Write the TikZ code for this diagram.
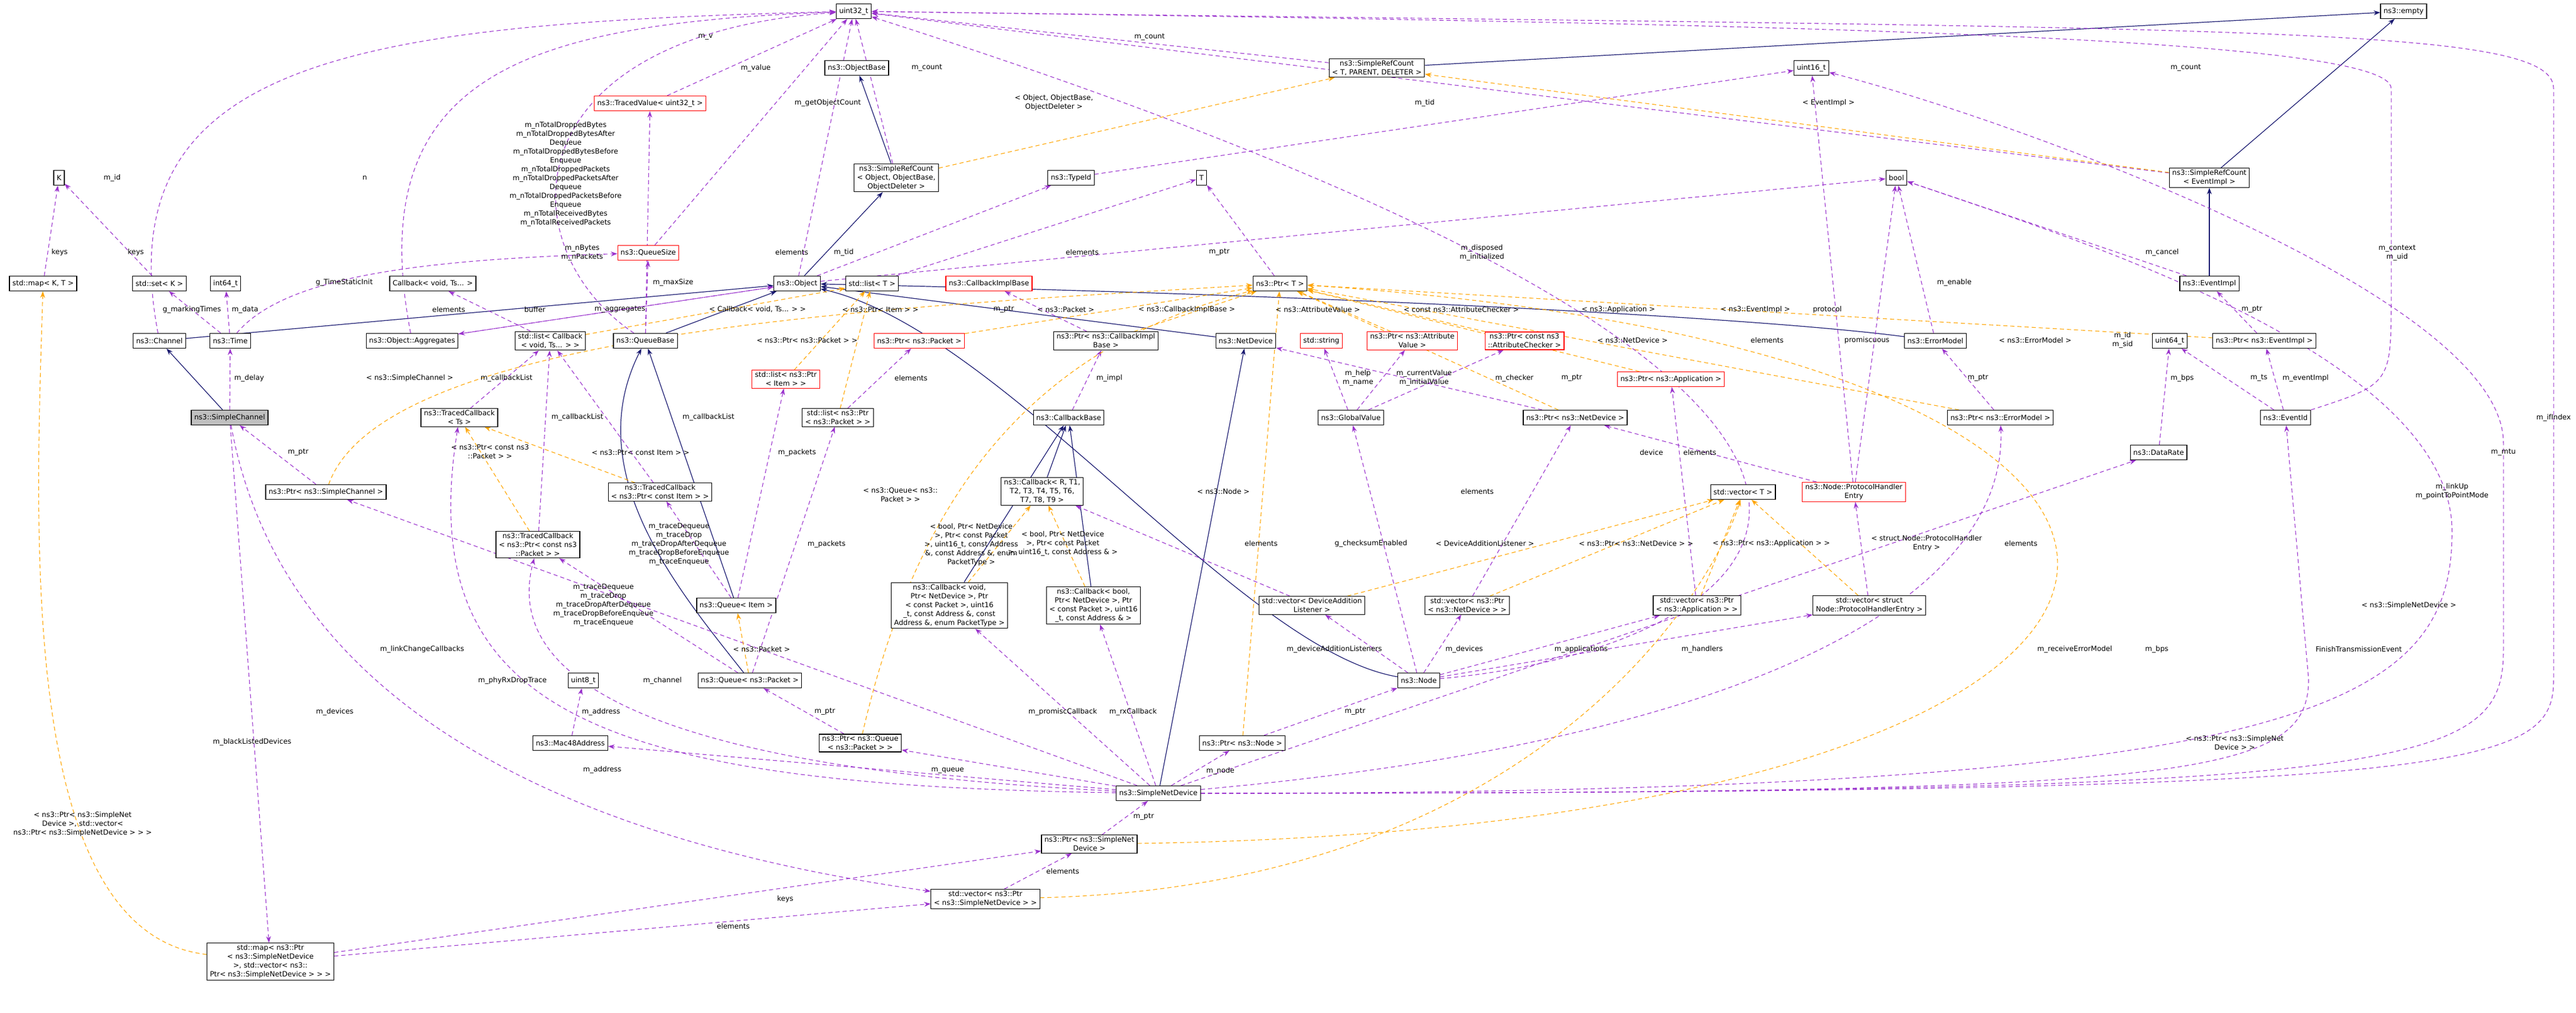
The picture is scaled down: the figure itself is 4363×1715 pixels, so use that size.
\documentclass[tikz,border=0pt]{standalone}
\usepackage{fontspec}
\setmainfont{DejaVu Sans}
\usetikzlibrary{arrows.meta}
\definecolor{pu}{HTML}{9A32CD}
\definecolor{og}{HTML}{FFA500}
\definecolor{nb}{HTML}{191970}
\pgfdeclarelayer{edges}
\pgfsetlayers{edges,main}
\begin{document}
\begin{tikzpicture}[x=1pt,y=-1pt,
  font=\fontsize{12}{15}\selectfont,
  bx/.style={draw=black,line width=1.2pt,fill=white,inner xsep=5pt,inner ysep=3pt,minimum height=25pt,align=center},
  rb/.style={bx,draw=red},
  gb/.style={bx,fill=black!25},
  lab/.style={inner sep=1pt,align=center},
  pe/.style={draw=pu,dash pattern=on 7pt off 5pt,line width=1.1pt,-{Stealth[length=11pt,width=8pt]}},
  oe/.style={draw=og,dash pattern=on 7pt off 5pt,line width=1.1pt,-{Stealth[length=11pt,width=8pt]}},
  ie/.style={draw=nb,line width=1.2pt,-{Stealth[length=11pt,width=8pt]}}]
\useasboundingbox (0,0) rectangle (4363,1715);
% nodes
\node[bx] (K) at (100,301) {K};
\node[bx] (u32) at (1446,19) {uint32\_t};
\node[bx] (ObjectBase) at (1451,115) {ns3::ObjectBase};
\node[bx] (SRCobj) at (1518,301) {ns3::SimpleRefCount\\< Object, ObjectBase,\\ObjectDeleter >};
\node[bx] (TypeId) at (1814,301) {ns3::TypeId};
\node[bx] (T) at (2035,301) {T};
\node[bx] (SRCtpd) at (2332,115) {ns3::SimpleRefCount\\< T, PARENT, DELETER >};
\node[bx] (u16) at (3068,115) {uint16\_t};
\node[bx] (bool) at (3212,301) {bool};
\node[bx] (empty) at (4071,19) {ns3::empty};
\node[bx] (SRCev) at (3742,301) {ns3::SimpleRefCount\\< EventImpl >};
\node[rb] (TracedValue) at (1101,175) {ns3::TracedValue< uint32\_t >};
\node[rb] (QueueSize) at (1098,428) {ns3::QueueSize};
\node[bx] (stdmap) at (73,480) {std::map< K, T >};
\node[bx] (stdset) at (270,480) {std::set< K >};
\node[bx] (i64) at (382,480) {int64\_t};
\node[bx] (CbVoidTs) at (733,480) {Callback< void, Ts... >};
\node[bx] (Object) at (1350,480) {ns3::Object};
\node[bx] (listT) at (1477,480) {std::list< T >};
\node[rb] (CbImplBase) at (1675,480) {ns3::CallbackImplBase};
\node[bx] (PtrT) at (2168,480) {ns3::Ptr< T >};
\node[bx] (EventImpl) at (3742,480) {ns3::EventImpl};
\node[bx] (Channel) at (270,577) {ns3::Channel};
\node[bx] (Time) at (390,577) {ns3::Time};
\node[bx] (Aggregates) at (698,577) {ns3::Object::Aggregates};
\node[bx] (listCb) at (932,577) {std::list< Callback\\< void, Ts... > >};
\node[bx] (QueueBase) at (1093,577) {ns3::QueueBase};
\node[rb] (PtrPacket) at (1557,577) {ns3::Ptr< ns3::Packet >};
\node[bx] (PtrCbImpl) at (1873,577) {ns3::Ptr< ns3::CallbackImpl\\Base >};
\node[bx] (NetDevice) at (2110,577) {ns3::NetDevice};
\node[rb] (string) at (2238,577) {std::string};
\node[rb] (PtrAttrVal) at (2392,577) {ns3::Ptr< ns3::Attribute\\Value >};
\node[rb] (PtrAttrChk) at (2582,577) {ns3::Ptr< const ns3\\::AttributeChecker >};
\node[bx] (ErrorModel) at (3278,577) {ns3::ErrorModel};
\node[bx] (u64) at (3675,577) {uint64\_t};
\node[bx] (PtrEvImpl) at (3835,577) {ns3::Ptr< ns3::EventImpl >};
\node[rb] (listPtrItem) at (1331,642) {std::list< ns3::Ptr\\< Item > >};
\node[rb] (PtrApp) at (2830,642) {ns3::Ptr< ns3::Application >};
\node[gb] (SimpleChannel) at (389,707) {ns3::SimpleChannel};
\node[bx] (TCts) at (778,707) {ns3::TracedCallback\\< Ts >};
\node[bx] (listPtrPkt) at (1419,707) {std::list< ns3::Ptr\\< ns3::Packet > >};
\node[bx] (CallbackBase) at (1810,707) {ns3::CallbackBase};
\node[bx] (GlobalValue) at (2288,707) {ns3::GlobalValue};
\node[bx] (PtrNetDev) at (2668,707) {ns3::Ptr< ns3::NetDevice >};
\node[bx] (PtrErrModel) at (3388,707) {ns3::Ptr< ns3::ErrorModel >};
\node[bx] (EventId) at (3871,707) {ns3::EventId};
\node[bx] (DataRate) at (3656,766) {ns3::DataRate};
\node[bx] (PtrSimpleCh) at (552,833) {ns3::Ptr< ns3::SimpleChannel >};
\node[bx] (TCitem) at (1118,833) {ns3::TracedCallback\\< ns3::Ptr< const Item > >};
\node[bx] (CbR) at (1765,832) {ns3::Callback< R, T1,\\T2, T3, T4, T5, T6,\\T7, T8, T9 >};
\node[bx] (vecT) at (2952,833) {std::vector< T >};
\node[rb] (PHE) at (3140,833) {ns3::Node::ProtocolHandler\\Entry};
\node[bx] (TCpkt) at (911,922) {ns3::TracedCallback\\< ns3::Ptr< const ns3\\::Packet > >};
\node[bx] (QueueItem) at (1247,1025) {ns3::Queue< Item >};
\node[bx] (CbVoid) at (1608,1025) {ns3::Callback< void,\\Ptr< NetDevice >, Ptr\\< const Packet >, uint16\\\_t, const Address \&, const\\Address \&, enum PacketType >};
\node[bx] (CbBool) at (1852,1025) {ns3::Callback< bool,\\Ptr< NetDevice >, Ptr\\< const Packet >, uint16\\\_t, const Address \& >};
\node[bx] (vecDAL) at (2222,1025) {std::vector< DeviceAddition\\Listener >};
\node[bx] (vecNetDev) at (2485,1025) {std::vector< ns3::Ptr\\< ns3::NetDevice > >};
\node[bx] (vecApp) at (2874,1025) {std::vector< ns3::Ptr\\< ns3::Application > >};
\node[bx] (vecPHE) at (3166,1025) {std::vector< struct\\Node::ProtocolHandlerEntry >};
\node[bx] (QueuePkt) at (1270,1152) {ns3::Queue< ns3::Packet >};
\node[bx] (u8) at (988,1152) {uint8\_t};
\node[bx] (Node) at (2403,1152) {ns3::Node};
\node[bx] (Mac48) at (966,1258) {ns3::Mac48Address};
\node[bx] (PtrQueue) at (1457,1258) {ns3::Ptr< ns3::Queue\\< ns3::Packet > >};
\node[bx] (PtrNode) at (2104,1258) {ns3::Ptr< ns3::Node >};
\node[bx] (SND) at (1962,1343) {ns3::SimpleNetDevice};
\node[bx] (PtrSND) at (1845,1429) {ns3::Ptr< ns3::SimpleNet\\Device >};
\node[bx] (vecPtrSND) at (1669,1522) {std::vector< ns3::Ptr\\< ns3::SimpleNetDevice > >};
\node[bx] (mapSND) at (458,1628) {std::map< ns3::Ptr\\< ns3::SimpleNetDevice\\>, std::vector< ns3::\\Ptr< ns3::SimpleNetDevice > > >};
\begin{pgfonlayer}{edges}
% inheritance
\draw[ie] (SimpleChannel) -- (Channel);
\draw[ie] (Channel) -- (Object);
\draw[ie] (Object) -- (SRCobj);
\draw[ie] (SRCobj) -- (ObjectBase);
\draw[ie] (SRCtpd) -- (empty);
\draw[ie] (SRCev) -- (empty);
\draw[ie] (EventImpl) -- (SRCev);
\draw[ie] (QueueBase) -- (Object);
\draw[ie] (QueueItem) -- (QueueBase);
\draw[ie] (QueuePkt) .. controls (1150,1000) and (980,800) .. (QueueBase);
\draw[ie] (NetDevice) -- (Object);
\draw[ie] (SND) -- (NetDevice);
\draw[ie] (Node) .. controls (2100,1100) and (1700,560) .. (Object);
\draw[ie] (ErrorModel) .. controls (3000,540) and (2300,500) .. (Object);
\draw[ie] (CbR) -- (CallbackBase);
\draw[ie] (CbVoid) -- (CallbackBase);
\draw[ie] (CbBool) -- (CallbackBase);
% purple
\draw[pe] (Channel) .. controls (180,100) and (600,40) .. (u32);
\draw[pe] (Aggregates) .. controls (610,120) and (900,40) .. (u32);
\draw[pe] (QueueBase) .. controls (860,420) and (860,60) .. (u32);
\draw[pe] (TracedValue) -- (u32);
\draw[pe] (QueueSize) -- (u32);
\draw[pe] (QueueBase) -- (TracedValue);
\draw[pe] (Object) -- (u32);
\draw[pe] (SRCobj) -- (u32);
\draw[pe] (SRCtpd) -- (u32);
\draw[pe] (SRCev) -- (u32);
\draw[pe] (EventImpl) -- (bool);
\draw[pe] (stdmap) -- (K);
\draw[pe] (stdset) -- (K);
\draw[pe] (Time) -- (stdset);
\draw[pe] (Time) -- (i64);
\draw[pe] (Time) .. controls (480,470) and (700,440) .. (QueueSize);
\draw[pe] (listCb) -- (CbVoidTs);
\draw[pe] (Object) -- (Aggregates);
\draw[pe] (Aggregates) -- (Object);
\draw[pe] (QueueBase) -- (QueueSize);
\draw[pe] (Object) -- (TypeId);
\draw[pe] (Object) -- (bool);
\draw[pe] (listT) -- (T);
\draw[pe] (PtrT) -- (T);
\draw[pe] (PtrCbImpl) -- (CbImplBase);
\draw[pe] (CallbackBase) -- (PtrCbImpl);
\draw[pe] (TCts) -- (listCb);
\draw[pe] (TCpkt) -- (listCb);
\draw[pe] (TCitem) -- (listCb);
\draw[pe] (SimpleChannel) -- (Time);
\draw[pe] (PtrSimpleCh) -- (SimpleChannel);
\draw[pe] (QueueItem) -- (listPtrItem);
\draw[pe] (QueuePkt) -- (listPtrPkt);
\draw[pe] (listPtrPkt) -- (PtrPacket);
\draw[pe] (QueueItem) -- (TCitem);
\draw[pe] (QueuePkt) -- (TCpkt);
\draw[pe] (PtrQueue) -- (QueuePkt);
\draw[pe] (Mac48) -- (u8);
\draw[pe] (SND) -- (Mac48);
\draw[pe] (SND) -- (PtrQueue);
\draw[pe] (SND) -- (PtrNode);
\draw[pe] (SND) -- (CbVoid);
\draw[pe] (SND) -- (CbBool);
\draw[pe] (SND) .. controls (1100,1300) and (850,1150) .. (TCpkt);
\draw[pe] (SND) .. controls (1000,1330) and (700,1200) .. (TCts);
\draw[pe] (SND) -- (PtrSimpleCh);
\draw[pe] (SND) .. controls (3000,1250) and (3400,1000) .. (PtrErrModel);
\draw[pe] (SND) -- (DataRate);
\draw[pe] (SND.east) .. controls (3700,1343) and (3910,1320) .. (3910,1150) -- (EventId);
\draw[pe] (SND.east) .. controls (3900,1343) and (4153,1200) .. (4153,900) .. controls (4153,600) and (3500,400) .. (bool);
\draw[pe] (SND.east) .. controls (4100,1343) and (4240,1300) .. (4240,1100) -- (4240,750) .. controls (4240,500) and (3400,200) .. (u16);
\draw[pe] (SND.east) .. controls (4200,1343) and (4325,1300) .. (4325,1150) -- (4325,150) .. controls (4325,40) and (3800,50) .. (u32);
\draw[pe] (PtrSND) -- (SND);
\draw[pe] (vecPtrSND) -- (PtrSND);
\draw[pe] (mapSND) -- (PtrSND);
\draw[pe] (mapSND) -- (vecPtrSND);
\draw[pe] (SimpleChannel) .. controls (460,1100) and (800,1400) .. (vecPtrSND);
\draw[pe] (SimpleChannel) -- (mapSND);
\draw[pe] (PtrNode) -- (Node);
\draw[pe] (Node) -- (vecDAL);
\draw[pe] (Node) -- (vecNetDev);
\draw[pe] (Node) -- (vecApp);
\draw[pe] (Node) -- (vecPHE);
\draw[pe] (Node) .. controls (3000,1100) and (3580,700) .. (u32);
\draw[pe] (Node) -- (GlobalValue);
\draw[pe] (vecDAL) -- (CbR);
\draw[pe] (vecNetDev) -- (PtrNetDev);
\draw[pe] (vecApp) -- (PtrApp);
\draw[pe] (vecPHE) -- (PHE);
\draw[pe] (PHE) -- (PtrNetDev);
\draw[pe] (PHE) -- (bool);
\draw[pe] (PHE) -- (u16);
\draw[pe] (PtrNetDev) -- (NetDevice);
\draw[pe] (GlobalValue) -- (string);
\draw[pe] (GlobalValue) -- (PtrAttrVal);
\draw[pe] (GlobalValue) -- (PtrAttrChk);
\draw[pe] (PtrErrModel) -- (ErrorModel);
\draw[pe] (ErrorModel) -- (bool);
\draw[pe] (DataRate) -- (u64);
\draw[pe] (EventId) -- (u64);
\draw[pe] (EventId) -- (PtrEvImpl);
\draw[pe] (EventId.north east) .. controls (4050,650) .. (4050,500) -- (4050,150) .. controls (4050,60) and (3000,40) .. (u32);
\draw[pe] (PtrEvImpl) -- (EventImpl);
\draw[pe] (TypeId) -- (u16);
% orange
\draw[oe] (SRCobj) -- (SRCtpd);
\draw[oe] (SRCev) -- (SRCtpd);
\draw[oe] (listCb) -- (listT);
\draw[oe] (listPtrItem) -- (listT);
\draw[oe] (listPtrPkt) -- (listT);
\draw[oe] (PtrPacket) -- (PtrT);
\draw[oe] (PtrCbImpl) -- (PtrT);
\draw[oe] (PtrAttrVal) -- (PtrT);
\draw[oe] (PtrAttrChk) -- (PtrT);
\draw[oe] (PtrApp) -- (PtrT);
\draw[oe] (PtrEvImpl) -- (PtrT);
\draw[oe] (PtrErrModel) -- (PtrT);
\draw[oe] (PtrNetDev) -- (PtrT);
\draw[oe] (PtrNode) -- (PtrT);
\draw[oe] (PtrSND) .. controls (3900,1400) and (4000,600) .. (PtrT);
\draw[oe] (PtrSimpleCh) .. controls (650,560) and (1500,520) .. (PtrT);
\draw[oe] (PtrQueue) .. controls (1540,900) and (1700,600) .. (PtrT);
\draw[oe] (TCpkt) -- (TCts);
\draw[oe] (TCitem) -- (TCts);
\draw[oe] (QueuePkt) -- (QueueItem);
\draw[oe] (CbVoid) -- (CbR);
\draw[oe] (CbBool) -- (CbR);
\draw[oe] (vecDAL) -- (vecT);
\draw[oe] (vecNetDev) -- (vecT);
\draw[oe] (vecApp) -- (vecT);
\draw[oe] (vecPHE) -- (vecT);
\draw[oe] (vecPtrSND) .. controls (2600,1500) and (2900,1000) .. (vecT);
\draw[oe] (mapSND) .. controls (30,1580) and (60,900) .. (stdmap);
\end{pgfonlayer}
% labels
\node[lab] (l1) at (190,301) {m\_id};
\node[lab] (l2) at (618,301) {n};
\node[lab] (l3) at (958,295) {m\_nTotalDroppedBytes\\m\_nTotalDroppedBytesAfter\\Dequeue\\m\_nTotalDroppedBytesBefore\\Enqueue\\m\_nTotalDroppedPackets\\m\_nTotalDroppedPacketsAfter\\Dequeue\\m\_nTotalDroppedPacketsBefore\\Enqueue\\m\_nTotalReceivedBytes\\m\_nTotalReceivedPackets};
\node[lab] (l4) at (101,427) {keys};
\node[lab] (l5) at (230,427) {keys};
\node[lab] (l6) at (986,428) {m\_nBytes\\m\_nPackets};
\node[lab] (l7) at (325,524) {g\_markingTimes};
\node[lab] (l8) at (415,524) {m\_data};
\node[lab] (l9) at (583,478) {g\_TimeStaticInit};
\node[lab] (l10) at (760,524) {elements};
\node[lab] (l11) at (906,524) {buffer};
\node[lab] (l12) at (1050,524) {m\_aggregates};
\node[lab] (l13) at (1195,63) {m\_v};
\node[lab] (l14) at (1280,115) {m\_value};
\node[lab] (l15) at (1402,174) {m\_getObjectCount};
\node[lab] (l16) at (1570,115) {m\_count};
\node[lab] (l17) at (1947,63) {m\_count};
\node[lab] (l18) at (1785,174) {< Object, ObjectBase,\\ObjectDeleter >};
\node[lab] (l19) at (1341,427) {elements};
\node[lab] (l20) at (1429,427) {m\_tid};
\node[lab] (l21) at (1833,427) {elements};
\node[lab] (l22) at (2065,427) {m\_ptr};
\node[lab] (l23) at (1140,478) {m\_maxSize};
\node[lab] (l24) at (1283,524) {< Callback< void, Ts... > >};
\node[lab] (l25) at (1491,524) {< ns3::Ptr< Item > >};
\node[lab] (l26) at (1700,524) {m\_ptr};
\node[lab] (l27) at (1805,524) {< ns3::Packet >};
\node[lab] (l28) at (2010,524) {< ns3::CallbackImplBase >};
\node[lab] (l29) at (1367,576) {< ns3::Ptr< ns3::Packet > >};
\node[lab] (l30) at (2413,174) {m\_tid};
\node[lab] (l31) at (3097,174) {< EventImpl >};
\node[lab] (l32) at (2510,428) {m\_disposed\\m\_initialized};
\node[lab] (l33) at (2232,524) {< ns3::AttributeValue >};
\node[lab] (l34) at (2475,524) {< const ns3::AttributeChecker >};
\node[lab] (l35) at (2741,524) {< ns3::Application >};
\node[lab] (l36) at (2973,524) {< ns3::EventImpl >};
\node[lab] (l37) at (3095,524) {protocol};
\node[lab] (l38) at (2765,576) {< ns3::NetDevice >};
\node[lab] (l39) at (2993,576) {elements};
\node[lab] (l40) at (3162,576) {promiscuous};
\node[lab] (l41) at (3310,478) {m\_enable};
\node[lab] (l42) at (3702,115) {m\_count};
\node[lab] (l43) at (3662,427) {m\_cancel};
\node[lab] (l44) at (4060,428) {m\_context\\m\_uid};
\node[lab] (l45) at (3814,524) {m\_ptr};
\node[lab] (l46) at (3447,576) {< ns3::ErrorModel >};
\node[lab] (l47) at (3595,576) {m\_id\\m\_sid};
\node[lab] (l48) at (422,640) {m\_delay};
\node[lab] (l49) at (694,640) {< ns3::SimpleChannel >};
\node[lab] (l50) at (858,640) {m\_callbackList};
\node[lab] (l51) at (978,706) {m\_callbackList};
\node[lab] (l52) at (1200,706) {m\_callbackList};
\node[lab] (l53) at (1543,640) {elements};
\node[lab] (l54) at (505,766) {m\_ptr};
\node[lab] (l55) at (830,765) {< ns3::Ptr< const ns3\\::Packet > >};
\node[lab] (l56) at (1085,766) {< ns3::Ptr< const Item > >};
\node[lab] (l57) at (1350,766) {m\_packets};
\node[lab] (l58) at (1400,921) {m\_packets};
\node[lab] (l59) at (1525,838) {< ns3::Queue< ns3::\\Packet > >};
\node[lab] (l60) at (1150,922) {m\_traceDequeue\\m\_traceDrop\\m\_traceDropAfterDequeue\\m\_traceDropBeforeEnqueue\\m\_traceEnqueue};
\node[lab] (l61) at (1022,1025) {m\_traceDequeue\\m\_traceDrop\\m\_traceDropAfterDequeue\\m\_traceDropBeforeEnqueue\\m\_traceEnqueue};
\node[lab] (l62) at (715,1099) {m\_linkChangeCallbacks};
\node[lab] (l63) at (1290,1099) {< ns3::Packet >};
\node[lab] (l64) at (868,1152) {m\_phyRxDropTrace};
\node[lab] (l65) at (1122,1152) {m\_channel};
\node[lab] (l66) at (567,1205) {m\_devices};
\node[lab] (l67) at (1018,1205) {m\_address};
\node[lab] (l68) at (1397,1205) {m\_ptr};
\node[lab] (l69) at (427,1256) {m\_blackListedDevices};
\node[lab] (l70) at (1879,640) {m\_impl};
\node[lab] (l71) at (2300,640) {m\_help\\m\_name};
\node[lab] (l72) at (2412,640) {m\_currentValue\\m\_initialValue};
\node[lab] (l73) at (2565,640) {m\_checker};
\node[lab] (l74) at (2662,640) {m\_ptr};
\node[lab] (l75) at (2797,766) {device};
\node[lab] (l76) at (2879,766) {elements};
\node[lab] (l77) at (2072,832) {< ns3::Node >};
\node[lab] (l78) at (2502,832) {elements};
\node[lab] (l79) at (2136,920) {elements};
\node[lab] (l80) at (2322,920) {g\_checksumEnabled};
\node[lab] (l81) at (2515,920) {< DeviceAdditionListener >};
\node[lab] (l82) at (2771,920) {< ns3::Ptr< ns3::NetDevice > >};
\node[lab] (l83) at (3000,920) {< ns3::Ptr< ns3::Application > >};
\node[lab] (l84) at (1645,922) {< bool, Ptr< NetDevice\\>, Ptr< const Packet\\>, uint16\_t, const Address\\\&, const Address \&, enum\\PacketType >};
\node[lab] (l85) at (1800,920) {< bool, Ptr< NetDevice\\>, Ptr< const Packet\\>, uint16\_t, const Address \& >};
\node[lab] (l86) at (2260,1099) {m\_deviceAdditionListeners};
\node[lab] (l87) at (2480,1099) {m\_devices};
\node[lab] (l88) at (2678,1099) {m\_applications};
\node[lab] (l89) at (2883,1099) {m\_handlers};
\node[lab] (l90) at (1800,1205) {m\_promiscCallback};
\node[lab] (l91) at (1919,1205) {m\_rxCallback};
\node[lab] (l92) at (2295,1205) {m\_ptr};
\node[lab] (l93) at (3350,640) {m\_ptr};
\node[lab] (l94) at (3696,640) {m\_bps};
\node[lab] (l95) at (3826,640) {m\_ts};
\node[lab] (l96) at (3905,640) {m\_eventImpl};
\node[lab] (l97) at (4325,707) {m\_ifIndex};
\node[lab] (l98) at (4240,766) {m\_mtu};
\node[lab] (l99) at (4153,832) {m\_linkUp\\m\_pointToPointMode};
\node[lab] (l100) at (3263,920) {< struct Node::ProtocolHandler\\Entry >};
\node[lab] (l101) at (3423,920) {elements};
\node[lab] (l102) at (4080,1025) {< ns3::SimpleNetDevice >};
\node[lab] (l103) at (3514,1099) {m\_receiveErrorModel};
\node[lab] (l104) at (3653,1099) {m\_bps};
\node[lab] (l105) at (3995,1099) {FinishTransmissionEvent};
\node[lab] (l106) at (3785,1258) {< ns3::Ptr< ns3::SimpleNet\\Device > >};
\node[lab] (l107) at (1020,1303) {m\_address};
\node[lab] (l108) at (1605,1305) {m\_queue};
\node[lab] (l109) at (2067,1305) {m\_node};
\node[lab] (l110) at (1937,1383) {m\_ptr};
\node[lab] (l111) at (1800,1475) {elements};
\node[lab] (l112) at (1330,1522) {keys};
\node[lab] (l113) at (1242,1568) {elements};
\node[lab] (l114) at (140,1395) {< ns3::Ptr< ns3::SimpleNet\\Device >, std::vector<\\ns3::Ptr< ns3::SimpleNetDevice > > >};
\end{tikzpicture}
\end{document}
